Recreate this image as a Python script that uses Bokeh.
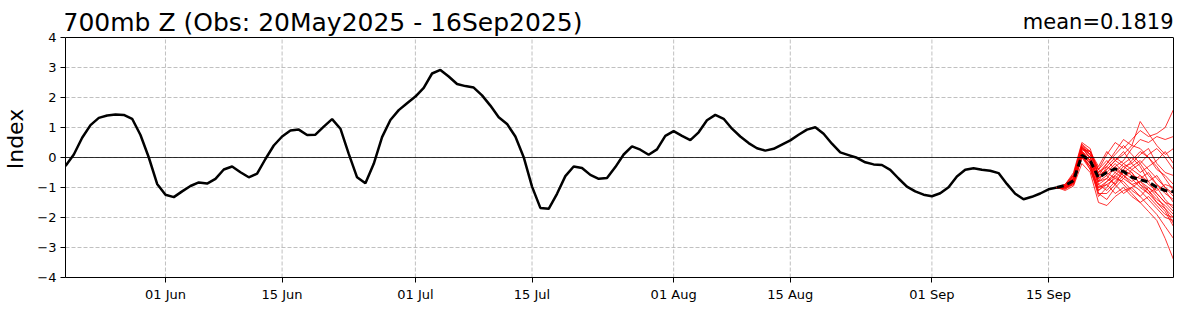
import pandas as pd
from bokeh.plotting import figure
from bokeh.models import (FixedTicker, DatetimeTickFormatter, Span, Label, Range1d,
                          LinearAxis)
from bokeh.embed import file_html
from bokeh.resources import INLINE

# ---------------- data ----------------
obs_start = "2025-05-20"
fc_start = "2025-09-16"
x_end = "2025-09-30"

obs = [
    -0.28, 0.10, 0.66, 1.08, 1.32, 1.40, 1.43, 1.42, 1.29, 0.75,
    0.00, -0.88, -1.24, -1.32, -1.13, -0.95, -0.83, -0.87, -0.71, -0.40,
    -0.30, -0.49, -0.66, -0.54, -0.05, 0.40, 0.70, 0.90, 0.93, 0.75,
    0.76, 1.03, 1.28, 0.96, 0.12, -0.66, -0.86, -0.21, 0.68, 1.25,
    1.58, 1.81, 2.03, 2.32, 2.80, 2.92, 2.70, 2.45, 2.38, 2.33,
    2.07, 1.73, 1.34, 1.12, 0.70, 0.01, -0.97, -1.68, -1.71, -1.21,
    -0.62, -0.30, -0.35, -0.58, -0.71, -0.68, -0.32, 0.10, 0.37, 0.26,
    0.09, 0.27, 0.72, 0.88, 0.72, 0.58, 0.84, 1.24, 1.42, 1.29,
    0.96, 0.70, 0.48, 0.31, 0.23, 0.29, 0.43, 0.57, 0.76, 0.93,
    1.01, 0.79, 0.46, 0.17, 0.08, -0.01, -0.16, -0.23, -0.25, -0.41,
    -0.70, -0.97, -1.13, -1.24, -1.29, -1.19, -0.99, -0.63, -0.41, -0.36,
    -0.41, -0.44, -0.52, -0.88, -1.21, -1.39, -1.31, -1.20, -1.06, -1.00,
]

ens_mean = [-1.00, -0.93, -0.77, 0.07, -0.10, -0.68, -0.49, -0.38, -0.47,
            -0.66, -0.74, -0.82, -0.99, -1.10, -1.14]

members = [
    [-1.0, -0.95, -0.60, 0.40, 0.20, -0.40, 0.10, 0.50, 0.30, 0.60, 0.90, 0.70, 0.80, 1.00, 1.60],
    [-1.0, -0.90, -0.50, 0.50, 0.30, -0.60, -0.20, 0.20, 0.60, 0.40, 1.20, 0.80, 0.40, 0.10, 0.30],
    [-1.0, -1.00, -0.80, 0.20, -0.10, -0.90, -0.70, -0.30, -0.10, 0.30, 0.60, 0.50, 0.70, 0.60, 0.70],
    [-1.0, -1.05, -0.90, 0.00, -0.30, -1.00, -0.80, -0.60, -0.90, -1.20, -1.50, -1.80, -2.10, -2.70, -3.40],
    [-1.0, -0.95, -0.70, 0.30, 0.00, -0.70, -0.40, -0.10, 0.20, -0.20, -0.50, -0.30, -0.10, 0.20, -0.20],
    [-1.0, -1.00, -0.85, 0.10, -0.20, -1.20, -1.40, -1.00, -0.70, -0.90, -1.10, -1.40, -1.70, -2.00, -2.10],
    [-1.0, -0.90, -0.60, 0.35, 0.10, -0.50, -0.30, -0.50, -0.20, 0.00, -0.30, -0.80, -1.20, -1.50, -1.80],
    [-1.0, -1.10, -0.95, -0.20, -0.50, -1.50, -1.60, -1.30, -1.10, -1.00, -1.30, -1.60, -1.90, -2.30, -2.70],
    [-1.0, -0.95, -0.70, 0.25, 0.20, -0.60, -0.50, -0.70, -0.40, -0.60, -0.70, -0.50, -0.90, -1.20, -1.40],
    [-1.0, -1.00, -0.75, 0.15, -0.10, -0.80, -0.60, -0.30, -0.60, -0.80, -0.60, -0.90, -1.10, -0.90, -1.00],
    [-1.0, -0.90, -0.55, 0.45, 0.20, -0.30, 0.20, -0.10, 0.10, 0.40, 0.30, 0.00, -0.40, -0.60, -0.90],
    [-1.0, -1.05, -0.85, 0.00, -0.40, -1.10, -0.90, -1.20, -1.00, -1.30, -1.50, -1.30, -1.60, -1.90, -2.00],
    [-1.0, -0.95, -0.70, 0.20, 0.00, -0.70, -0.50, -0.20, -0.50, -0.30, -0.10, -0.40, -0.70, -1.00, -1.30],
    [-1.0, -1.00, -0.80, 0.10, -0.20, -0.90, -1.10, -0.80, -0.50, -0.70, -1.00, -1.20, -1.00, -1.40, -1.70],
    [-1.0, -0.95, -0.65, 0.30, 0.10, -0.40, -0.10, -0.40, -0.60, -0.90, -0.80, -1.10, -1.40, -1.60, -1.90],
    [-1.0, -1.00, -0.90, 0.05, -0.30, -1.30, -1.00, -0.60, -0.30, -0.50, -0.90, -1.10, -1.50, -1.80, -2.30],
    [-1.0, -0.90, -0.60, 0.40, 0.10, -0.60, -0.40, -0.10, -0.30, -0.20, 0.10, 0.30, -0.20, -0.50, -0.60],
    [-1.0, -1.05, -0.80, 0.15, -0.10, -0.80, -0.70, -0.90, -1.20, -1.00, -0.80, -1.00, -1.30, -1.70, -2.20],
    [-1.0, -0.95, -0.75, 0.20, -0.10, -0.50, -0.20, 0.10, 0.40, 0.10, -0.20, -0.60, -0.90, -1.10, -1.50],
    [-1.0, -1.00, -0.85, 0.10, -0.30, -1.00, -0.90, -0.70, -0.80, -1.10, -1.30, -1.00, -1.20, -1.50, -1.60],
    [-1.0, -0.95, -0.70, 0.35, 0.00, -0.80, -0.30, 0.00, -0.20, -0.40, -0.20, 0.10, 0.30, 0.00, -0.40],
    [-1.0, -1.00, -0.80, 0.20, -0.20, -1.10, -0.80, -0.50, -0.70, -0.40, -0.60, -0.80, -0.60, -1.00, -1.20],
    [-1.0, -0.95, -0.65, 0.30, 0.20, -0.40, -0.60, -0.90, -0.60, -0.50, -0.90, -1.20, -1.50, -1.70, -2.00],
    [-1.0, -1.00, -0.85, 0.10, -0.40, -1.20, -1.20, -0.90, -0.40, -0.10, 0.20, 0.00, -0.30, -0.70, -1.10],
]

title_text = "700mb Z (Obs: 20May2025 - 16Sep2025)"
mean_text = "mean=0.1819"
y_ticks = [-4, -3, -2, -1, 0, 1, 2, 3, 4]
x_tick_dates = ["2025-06-01", "2025-06-15", "2025-07-01", "2025-07-15",
                "2025-08-01", "2025-08-15", "2025-09-01", "2025-09-15"]


def ms(d):
    return pd.Timestamp(d).value / 1e6


obs_x = [ms(d) for d in pd.date_range(obs_start, periods=len(obs), freq="D")]
fc_x = [ms(d) for d in pd.date_range(fc_start, periods=len(ens_mean), freq="D")]
tick_x = [ms(d) for d in x_tick_dates]

FONT = "DejaVu Sans"

# layout geometry (pixels)
W, H = 1178, 313
TOP_PAD = 37          # space above the axes box, holds the titles
BOTTOM = 36
box_h = H - TOP_PAD - BOTTOM
y_lo, y_hi = y_ticks[0], y_ticks[-1]
px_per_unit = box_h / (y_hi - y_lo)
y_top = y_hi + TOP_PAD / px_per_unit   # frame extends up into the title strip

p = figure(width=W, height=H, output_backend="svg", toolbar_location=None,
           x_axis_type="datetime",
           x_range=Range1d(ms(obs_start), ms(x_end)), y_range=Range1d(y_lo, y_top),
           min_border_left=62, min_border_right=5, min_border_top=0,
           min_border_bottom=BOTTOM)
p.background_fill_color = "white"
p.border_fill_color = "white"
p.outline_line_color = None

# axes
p.xaxis.ticker = FixedTicker(ticks=tick_x)
fmt = "%d %b"
p.xaxis.formatter = DatetimeTickFormatter(milliseconds=fmt, seconds=fmt, minsec=fmt, minutes=fmt,
                                          hourmin=fmt, hours=fmt, days=fmt, months=fmt, years=fmt)
p.yaxis.ticker = FixedTicker(ticks=y_ticks)
p.yaxis.bounds = (y_lo, y_hi)
p.yaxis.major_label_overrides = {t: (("\u2212" + str(abs(t))) if t < 0 else str(t)) for t in y_ticks}
p.yaxis.axis_label = "Index"
p.yaxis.axis_label_text_font = FONT
p.yaxis.axis_label_text_font_size = "22px"
p.yaxis.axis_label_text_font_style = "normal"
p.yaxis.axis_label_text_color = "black"
p.yaxis.axis_label_standoff = 6
for ax in (p.xaxis, p.yaxis):
    ax.major_label_text_font = FONT
    ax.major_label_text_font_size = "13px"
    ax.major_label_text_color = "black"
    ax.axis_line_color = "black"
    ax.major_tick_line_color = "black"
    ax.major_tick_out = 5
    ax.major_tick_in = 0
    ax.minor_tick_out = 0
    ax.minor_tick_in = 0
    ax.major_label_standoff = 4

# right spine
right = LinearAxis(ticker=FixedTicker(ticks=[]), bounds=(y_lo, y_hi), axis_line_color="black",
                   major_tick_line_color=None, minor_tick_line_color=None,
                   major_label_text_font_size="0px")
p.add_layout(right, "right")

# horizontal grid
p.ygrid.ticker = FixedTicker(ticks=y_ticks)
p.ygrid.grid_line_color = "#b0b0b0"
p.ygrid.grid_line_dash = "4 2"
p.ygrid.grid_line_width = 0.8
# vertical grid limited to the box
p.xgrid.visible = False
p.segment(x0=tick_x, y0=[y_lo] * len(tick_x), x1=tick_x, y1=[y_hi] * len(tick_x),
          line_color="#b0b0b0", line_dash="4 2", line_width=0.8)

# top spine and zero line
p.add_layout(Span(location=y_hi, dimension="width", line_color="black", line_width=1))
p.add_layout(Span(location=0, dimension="width", line_color="black", line_width=0.8))

# observed
p.line(obs_x, obs, line_color="black", line_width=2.5)

# ensemble members
for m in members:
    p.line(fc_x, m, line_color="red", line_width=0.8)

# ensemble mean
p.line(fc_x, ens_mean, line_color="black", line_width=3, line_dash="7 4")

p.add_layout(Label(x=ms(obs_start), y=y_hi + 14.8 / px_per_unit, text=title_text,
                   text_align="left", text_baseline="alphabetic", text_font=FONT,
                   text_font_size="25px", text_color="black", x_offset=-3))
p.add_layout(Label(x=ms(x_end), y=y_hi + 15.2 / px_per_unit, text=mean_text,
                   text_align="right", text_baseline="alphabetic", text_font=FONT,
                   text_font_size="21px", text_color="black"))

open("out.html", "w").write(file_html(p, INLINE))
